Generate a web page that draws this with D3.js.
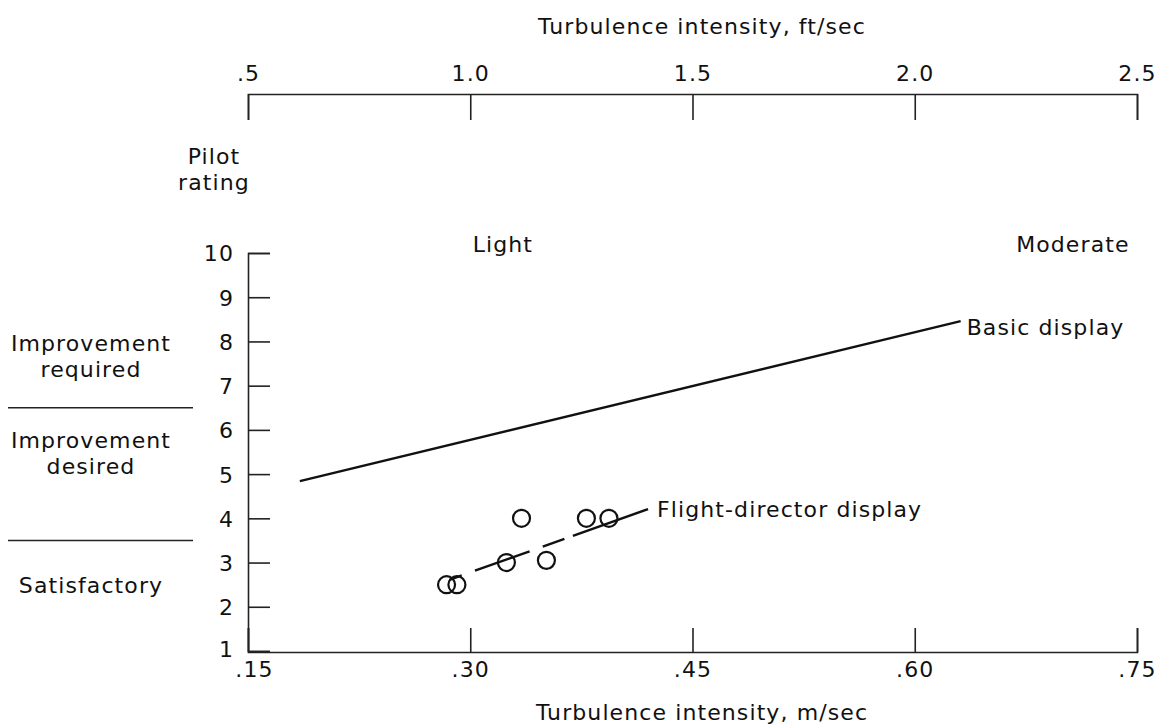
<!DOCTYPE html>
<html>
<head>
<meta charset="utf-8">
<script src="https://cdn.jsdelivr.net/npm/d3@7/dist/d3.min.js"></script>
<style>
  html, body { margin: 0; padding: 0; background: #fff; }
  svg text { font-family: "DejaVu Sans", sans-serif; fill: #111; letter-spacing: 1.1px; }
</style>
</head>
<body>
<svg id="chart" width="1160" height="728"></svg>
<script>
// ---- data ----
const msTicks = [0.15, 0.30, 0.45, 0.60, 0.75];
const msTickLabels = [".15", ".30", ".45", ".60", ".75"];
const ftTicks = [0.5, 1.0, 1.5, 2.0, 2.5];
const ftTickLabels = [".5", "1.0", "1.5", "2.0", "2.5"];
const ratingTicks = [1, 2, 3, 4, 5, 6, 7, 8, 9, 10];
const ratingBoundaries = [3.5, 6.5];
const ratingCategories = [
  { lines: ["Improvement", "required"], rating: 7.67 },
  { lines: ["Improvement", "desired"], rating: 5.48 },
  { lines: ["Satisfactory"], rating: 2.5 }
];
// flight-director test points (m/sec, pilot rating)
const fdPointsX = [0.284, 0.291, 0.3346, 0.3244, 0.3514, 0.3784, 0.3936];
const fdPointsY = [2.5, 2.5, 4.0, 3.0, 3.05, 4.0, 4.0];
// fairings
const basicLineX = [0.185, 0.631];
const basicLineY = [4.84, 8.46];
const fdLineX = [0.286, 0.42];
const fdLineY = [2.61, 4.21];
const regionLabels = ["Light", "Moderate"];
const regionLabelX = [0.322, 0.745];

// ---- layout ----
const svg = d3.select("#chart");
const x = d3.scaleLinear().domain([0.15, 0.75]).range([248, 1137]);
const xTop = d3.scaleLinear().domain([0.5, 2.5]).range([248, 1137]);
const y = d3.scaleLinear().domain([1, 10]).range([651, 253]);
const FS = 22;

// bottom axis
const bottomAxis = d3.axisBottom(x).tickValues(msTicks).tickSize(-24).tickFormat((d, i) => msTickLabels[i]);
const gB = svg.append("g").attr("transform", "translate(0,652)").call(bottomAxis);
gB.selectAll("text").attr("dy", 0).attr("y", 25).style("font-size", FS + "px");
gB.selectAll(".tick").filter((d, i) => i === 0).select("text").attr("x", 6);

// top axis
const topAxis = d3.axisTop(xTop).tickValues(ftTicks).tickSize(-26).tickFormat((d, i) => ftTickLabels[i]);
const gT = svg.append("g").attr("transform", "translate(0,94)").call(topAxis);
gT.selectAll("text").attr("y", -13).style("font-size", FS + "px");

// left axis
const leftAxis = d3.axisLeft(y).tickValues(ratingTicks).tickSize(-22).tickFormat(d3.format("d"));
const gL = svg.append("g").attr("transform", "translate(248,0)").call(leftAxis);
gL.selectAll("text").attr("x", -14).attr("dy", "0.36em").style("font-size", FS + "px");
gL.selectAll(".tick").filter(d => d === 1).select("text").attr("dy", "0.25em");

[gB, gT, gL].forEach(g => {
  g.select(".domain").attr("stroke", "#222").attr("stroke-width", 1.6);
  g.selectAll(".tick line").attr("stroke", "#222").attr("stroke-width", 1.6);
  g.selectAll("text").attr("fill", "#111");
});

// axis titles
svg.append("text").attr("x", 702).attr("y", 34).attr("text-anchor", "middle")
  .style("font-size", FS + "px").text("Turbulence intensity,  ft/sec");
svg.append("text").attr("x", 702).attr("y", 720).attr("text-anchor", "middle")
  .style("font-size", FS + "px").text("Turbulence intensity,  m/sec");
svg.append("text").attr("x", 214).attr("y", 164).attr("text-anchor", "middle")
  .style("font-size", FS + "px").text("Pilot");
svg.append("text").attr("x", 214).attr("y", 190).attr("text-anchor", "middle")
  .style("font-size", FS + "px").text("rating");

// region labels
svg.append("text").attr("x", x(regionLabelX[0])).attr("y", 252).attr("text-anchor", "middle")
  .style("font-size", FS + "px").text(regionLabels[0]);
svg.append("text").attr("x", x(regionLabelX[1])).attr("y", 252).attr("text-anchor", "end")
  .style("font-size", FS + "px").text(regionLabels[1]);

// rating categories on the left
ratingBoundaries.forEach(b => {
  svg.append("line").attr("x1", 8).attr("x2", 193).attr("y1", y(b)).attr("y2", y(b))
    .attr("stroke", "#222").attr("stroke-width", 1.4);
});
ratingCategories.forEach(c => {
  const n = c.lines.length;
  c.lines.forEach((t, i) => {
    svg.append("text").attr("x", 91)
      .attr("y", y(c.rating) + 8 + (i - (n - 1) / 2) * 26)
      .attr("text-anchor", "middle").style("font-size", FS + "px").text(t);
  });
});

// data lines
const line = d3.line().x(d => x(d[0])).y(d => y(d[1]));
svg.append("path").datum(d3.zip(basicLineX, basicLineY)).attr("d", line)
  .attr("fill", "none").attr("stroke", "#111").attr("stroke-width", 2.4);
svg.append("path").datum(d3.zip(fdLineX, fdLineY)).attr("d", line)
  .attr("fill", "none").attr("stroke", "#111").attr("stroke-width", 2.4)
  .attr("stroke-dasharray", "13,14,58,14,23,9,80");

// labels on lines
svg.append("text").attr("x", x(basicLineX[1]) + 6).attr("y", y(basicLineY[1]) + 14)
  .style("font-size", FS + "px").text("Basic display");
svg.append("text").attr("x", x(fdLineX[1]) + 9).attr("y", y(fdLineY[1]) + 8)
  .style("font-size", FS + "px").text("Flight-director display");

// points
svg.append("g").selectAll("circle").data(d3.zip(fdPointsX, fdPointsY)).join("circle")
  .attr("cx", d => x(d[0])).attr("cy", d => y(d[1])).attr("r", 8.5)
  .attr("fill", "none").attr("stroke", "#111").attr("stroke-width", 2.2);
</script>
</body>
</html>
